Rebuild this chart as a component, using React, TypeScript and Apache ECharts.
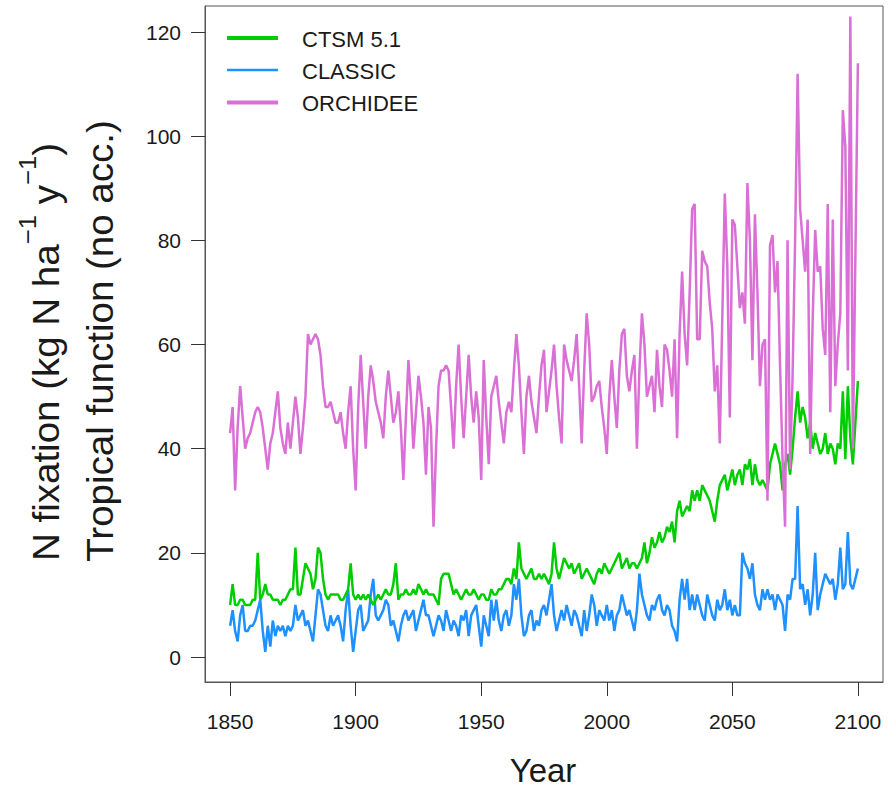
import React, { useEffect, useRef } from 'react';
import * as echarts from 'echarts';

const startYear = 1850;

// CTSM 5.1 (kg N ha-1 y-1), 1850..2100
const ctsm: number[] = [
  10, 14, 10, 10, 11, 11, 10, 10, 10, 11,
  11, 20, 11, 12, 14, 12, 12, 11, 11, 11,
  10, 11, 11, 12, 13, 13, 21, 12, 12, 15,
  18, 17, 16, 13, 15, 21, 20, 15, 12, 11,
  12, 12, 12, 12, 11, 11, 12, 13, 18, 12,
  11, 12, 11, 12, 11, 12, 11, 10, 11, 12,
  11, 12, 13, 12, 12, 14, 18, 11, 12, 12,
  13, 12, 12, 13, 12, 14, 13, 12, 13, 12,
  12, 12, 11, 10, 15, 16, 16, 16, 14, 12,
  13, 12, 11, 12, 13, 12, 12, 13, 12, 11,
  12, 12, 11, 11, 13, 12, 12, 13, 13, 14,
  15, 15, 14, 17, 15, 22, 17, 16, 15, 16,
  17, 15, 15, 16, 15, 16, 15, 14, 16, 22,
  17, 15, 17, 19, 18, 17, 18, 16, 17, 18,
  15, 16, 17, 16, 15, 14, 16, 17, 16, 18,
  17, 16, 17, 18, 19, 20, 17, 18, 19, 17,
  18, 18, 17, 18, 19, 22, 18, 20, 23, 21,
  22, 24, 22, 23, 25, 24, 26, 22, 28, 30,
  27, 28, 29, 28, 32, 30, 32, 30, 33, 32,
  31, 30, 28, 26, 30, 33, 34, 35, 32, 34,
  36, 33, 35, 36, 33, 37, 36, 38, 33, 37,
  34, 33, 34, 33, 32, 37, 39, 41, 39, 37,
  32, 37, 39, 35, 40, 46, 51, 45, 48, 46,
  42, 45, 40, 43, 41, 39, 40, 43, 39, 41,
  40, 37, 41, 40, 51, 38, 52, 42, 37, 45,
  53,
];

// CLASSIC
const classic: number[] = [
  6, 9, 5, 3, 8, 10, 5, 5, 6, 6,
  7, 9, 11, 5, 1, 6, 2, 7, 4, 6,
  5, 6, 4, 6, 5, 6, 10, 7, 8, 9,
  6, 7, 5, 3, 8, 13, 12, 9, 6, 5,
  8, 6, 7, 8, 6, 3, 9, 13, 6, 1,
  5, 9, 10, 5, 6, 7, 12, 15, 8, 7,
  8, 9, 11, 10, 6, 7, 5, 3, 6, 8,
  9, 7, 8, 9, 5, 7, 9, 11, 8, 8,
  6, 4, 6, 8, 7, 5, 9, 7, 5, 7,
  6, 4, 8, 7, 9, 4, 8, 9, 10, 6,
  2, 8, 6, 4, 11, 7, 11, 7, 5, 8,
  9, 6, 8, 14, 11, 15, 8, 4, 5, 8,
  9, 5, 7, 6, 9, 10, 8, 11, 14, 8,
  5, 7, 9, 7, 10, 8, 6, 9, 8, 6,
  4, 9, 5, 8, 12, 10, 6, 9, 8, 7,
  10, 7, 9, 5, 8, 9, 12, 10, 8, 9,
  7, 5, 9, 16, 12, 10, 8, 7, 10, 9,
  11, 12, 9, 8, 10, 9, 6, 5, 3, 11,
  15, 11, 15, 9, 12, 9, 12, 10, 8, 7,
  12, 10, 8, 7, 11, 9, 10, 13, 9, 11,
  8, 10, 8, 8, 20, 18, 17, 15, 18, 12,
  10, 9, 13, 11, 13, 11, 12, 9, 12, 11,
  10, 5, 12, 11, 15, 15, 29, 13, 14, 10,
  13, 8, 12, 20, 9, 12, 14, 16, 15, 14,
  15, 11, 14, 21, 13, 14, 24, 14, 13, 15,
  17,
];

// ORCHIDEE
const orchidee: number[] = [
  43, 48, 32, 44, 52, 46, 40, 42, 43, 45,
  47, 48, 47, 44, 40, 36, 41, 43, 47, 51,
  44, 41, 39, 45, 40, 45, 50, 46, 39, 44,
  50, 62, 60, 61, 62, 61, 58, 52, 48, 48,
  49, 47, 45, 45, 47, 43, 40, 47, 52, 40,
  32, 48, 58, 49, 40, 50, 56, 53, 49, 47,
  45, 42, 50, 55, 50, 45, 47, 51, 44, 34,
  46, 57, 50, 40, 47, 54, 50, 45, 35, 48,
  44, 25, 40, 52, 55, 55, 56, 55, 48, 40,
  52, 60, 50, 42, 50, 58, 50, 45, 51, 46,
  34, 57, 46, 37, 50, 52, 54, 49, 45, 41,
  47, 49, 47, 55, 62, 56, 47, 39, 50, 54,
  49, 46, 43, 50, 56, 59, 47, 51, 55, 60,
  52, 46, 41, 60, 57, 55, 53, 57, 62, 52,
  41, 55, 66, 60, 49, 50, 52, 53, 48, 44,
  39, 50, 57, 50, 44, 55, 62, 63, 54, 51,
  55, 58, 40, 55, 66, 60, 50, 52, 54, 47,
  59, 52, 48, 60, 59, 55, 50, 61, 42, 62,
  74, 62, 56, 70, 86, 87, 61, 61, 78, 76,
  75, 68, 63, 51, 56, 41, 65, 89, 75, 46,
  84, 83, 75, 67, 70, 64, 91, 80, 57, 85,
  70, 52, 60, 61, 30, 79, 81, 70, 76, 56,
  38, 25, 80, 36, 54, 80, 112, 86, 80, 74,
  84, 39, 65, 82, 74, 75, 63, 58, 87, 47,
  84, 52, 60, 66, 105, 98, 55, 123, 40, 77,
  114,
];

const xTicks = [1850, 1900, 1950, 2000, 2050, 2100];
const yTicks = [0, 20, 40, 60, 80, 100, 120];

const seriesNames = ['CTSM 5.1', 'CLASSIC', 'ORCHIDEE'];
const seriesColors = ['#00CD00', '#1E90FF', '#DA70D6'];

const FONT = '"Liberation Sans", Arial, Helvetica, sans-serif';
const TEXT = '#1a1a1a';
const AXIS = '#555555';

const toPairs = (vals: number[]) => vals.map((v, i) => [startYear + i, v]);

export default function App() {
  const ref = useRef<HTMLDivElement>(null);

  useEffect(() => {
    if (!ref.current) return;
    const chart = echarts.init(ref.current, null, { renderer: 'svg' });

    const legendRows = seriesNames.map((name, i) => {
      const y = [38, 70, 102.5][i];
      const w = [4, 2.5, 4][i];
      return [
        {
          type: 'line',
          shape: { x1: 227, y1: y, x2: 278, y2: y },
          style: { stroke: seriesColors[i], lineWidth: w },
          z: 10,
        },
        {
          type: 'text',
          x: 302,
          y: y + 1,
          style: {
            text: name,
            fontSize: 22,
            fontFamily: FONT,
            fill: TEXT,
            verticalAlign: 'middle',
            align: 'left',
          },
          z: 10,
        },
      ];
    }).flat();

    const option: any = {
      animation: false,
      backgroundColor: '#ffffff',
      grid: {
        left: 205,
        right: 9,
        top: 6,
        bottom: 108,
        show: true,
        borderColor: AXIS,
        borderWidth: 1,
        backgroundColor: 'transparent',
        containLabel: false,
      },
      xAxis: {
        type: 'value',
        min: 1840,
        max: 2110,
        axisLine: { show: true, onZero: false, lineStyle: { color: AXIS, width: 1 } },
        axisTick: {
          show: true,
          length: 14,
          customValues: xTicks,
          lineStyle: { color: '#333', width: 1 },
        },
        axisLabel: {
          customValues: xTicks,
          formatter: (v: number) => String(v),
          fontSize: 21,
          fontFamily: FONT,
          color: TEXT,
          margin: 29,
        },
        splitLine: { show: false },
      },
      yAxis: {
        type: 'value',
        min: -4.8,
        max: 125,
        axisLine: { show: true, onZero: false, lineStyle: { color: AXIS, width: 1 } },
        axisTick: {
          show: true,
          length: 14,
          customValues: yTicks,
          lineStyle: { color: '#333', width: 1 },
        },
        axisLabel: {
          customValues: yTicks,
          formatter: (v: number) => String(v),
          fontSize: 21,
          fontFamily: FONT,
          color: TEXT,
          margin: 24,
        },
        splitLine: { show: false },
      },
      series: [
        {
          name: seriesNames[1],
          type: 'line',
          data: toPairs(classic),
          showSymbol: false,
          symbol: 'none',
          lineStyle: { color: seriesColors[1], width: 2.5 },
          itemStyle: { color: seriesColors[1] },
          z: 2,
        },
        {
          name: seriesNames[0],
          type: 'line',
          data: toPairs(ctsm),
          showSymbol: false,
          symbol: 'none',
          lineStyle: { color: seriesColors[0], width: 2.5 },
          itemStyle: { color: seriesColors[0] },
          z: 3,
        },
        {
          name: seriesNames[2],
          type: 'line',
          data: toPairs(orchidee),
          showSymbol: false,
          symbol: 'none',
          lineStyle: { color: seriesColors[2], width: 2.5 },
          itemStyle: { color: seriesColors[2] },
          z: 4,
        },
      ],
      graphic: [
        ...legendRows,
        {
          type: 'text',
          x: 543,
          y: 770,
          style: {
            text: 'Year',
            fontSize: 33,
            fontFamily: FONT,
            fill: TEXT,
            align: 'center',
            verticalAlign: 'middle',
          },
        },
        {
          type: 'text',
          x: 40,
          y: 352,
          rotation: Math.PI / 2,
          scaleX: 1.07,
          style: {
            text: '{n|N fixation (kg N ha}{s|−1}{n| y}{s|−1}{n|)}',
            fontFamily: FONT,
            fill: TEXT,
            align: 'center',
            verticalAlign: 'middle',
            rich: {
              n: { fontSize: 36, fontFamily: FONT, fill: TEXT, lineHeight: 48, verticalAlign: 'bottom' },
              s: { fontSize: 24, fontFamily: FONT, fill: TEXT, lineHeight: 48, verticalAlign: 'top' },
            },
          },
        },
        {
          type: 'text',
          x: 100,
          y: 341,
          rotation: Math.PI / 2,
          scaleX: 1.07,
          style: {
            text: 'Tropical function (no acc.)',
            fontSize: 36,
            fontFamily: FONT,
            fill: TEXT,
            align: 'center',
            verticalAlign: 'middle',
          },
        },
      ],
    };

    chart.setOption(option);
    return () => chart.dispose();
  }, []);

  return (
    <div
      ref={ref}
      style={{ position: 'absolute', left: 0, top: 0, width: 892, height: 790 }}
    />
  );
}
